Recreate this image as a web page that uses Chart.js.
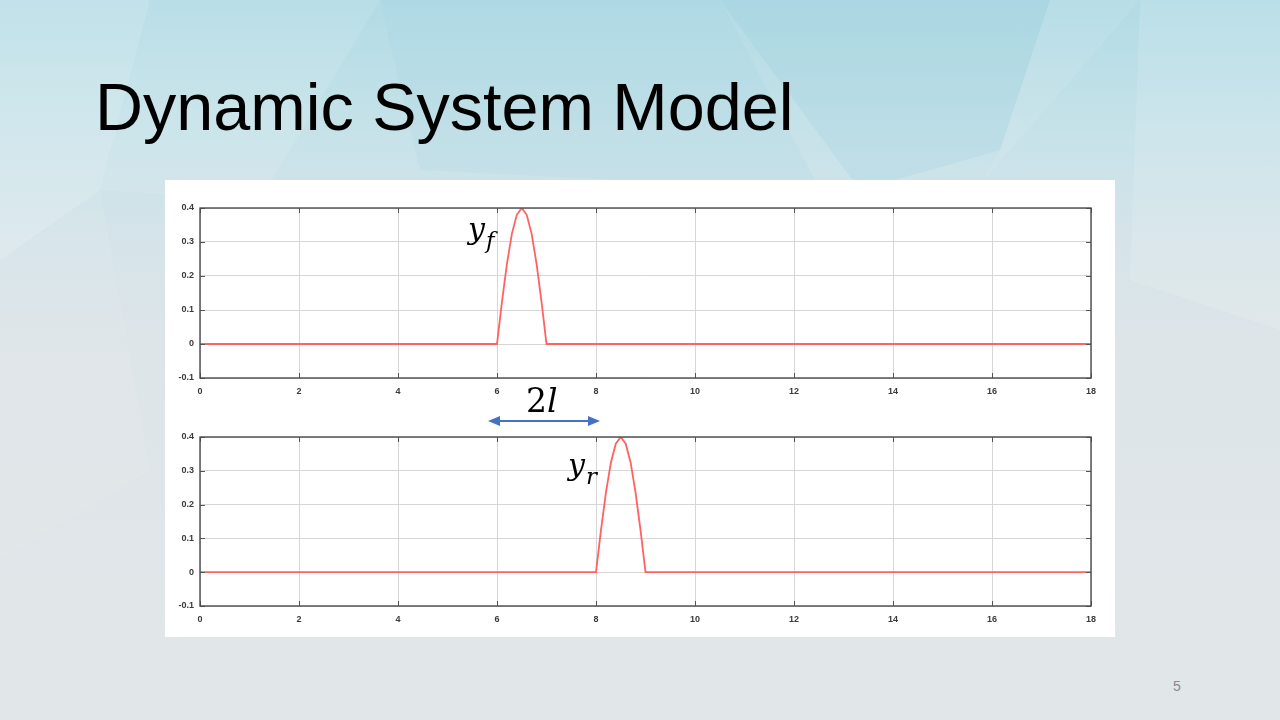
<!DOCTYPE html>
<html>
<head>
<meta charset="utf-8">
<script src="https://cdn.jsdelivr.net/npm/chart.js@4/dist/chart.umd.min.js"></script>
<style>
  html, body { margin: 0; padding: 0; }
  body { width: 1280px; height: 720px; position: relative; overflow: hidden;
         background: linear-gradient(to bottom, #b2dbe5 0%, #c6e2e9 18%, #d6e4e9 34%, #dee5e8 50%, #e1e6e9 100%);
         font-family: "Liberation Sans", Arial, sans-serif; }
  #bg { position: absolute; left: 0; top: 0; }
  h1 { position: absolute; left: 95px; top: 74px; margin: 0; font-weight: normal;
       font-size: 66.5px; line-height: 1; color: #000; }
  #panel { position: absolute; left: 165px; top: 180px; width: 950px; height: 457px; background: #fff; }
  .cv { position: absolute; left: 165px; }
  .lbl { position: absolute; font-family: "DejaVu Serif", "Liberation Serif", serif; font-style: italic;
         line-height: 1; color: #000; white-space: nowrap; }
  .sub { font-size: 23px; position: relative; top: 9px; margin-left: 1px; }
  .up { font-style: normal; }
  #page { position: absolute; left: 1173px; top: 678px; font-size: 14px; color: #8a8a8a; }
</style>
</head>
<body>
<svg id="bg" width="1280" height="720">
  <polygon points="0,0 150,0 100,190 0,260" fill="rgba(255,255,255,0.20)"/>
  <polygon points="150,0 380,0 260,200 100,190" fill="rgba(255,255,255,0.10)"/>
  <polygon points="380,0 720,0 820,190 420,170" fill="rgba(150,205,220,0.12)"/>
  <polygon points="720,0 1050,0 1000,150 860,190" fill="rgba(130,195,215,0.15)"/>
  <polygon points="1050,0 1140,0 980,185 1000,150" fill="rgba(255,255,255,0.08)"/>
  <polygon points="1140,0 1280,0 1280,330 1130,280" fill="rgba(255,255,255,0.12)"/>
  <polygon points="0,260 100,190 150,470 0,560" fill="rgba(255,255,255,0.07)"/>
</svg>
<h1>Dynamic System Model</h1>
<div id="panel"></div>
<canvas id="chartF" class="cv" style="top:180px"></canvas>
<canvas id="chartR" class="cv" style="top:408px"></canvas>
<div class="lbl" style="left:468px;top:214px;font-size:30px">y<span class="sub">f</span></div>
<div class="lbl" style="left:526px;top:384px;font-size:33px"><span class="up">2</span>l</div>
<div class="lbl" style="left:568px;top:450px;font-size:30px">y<span class="sub">r</span></div>
<svg style="position:absolute;left:480px;top:411px" width="130" height="20">
  <line x1="18" y1="10" x2="110" y2="10" stroke="#4472c4" stroke-width="2"/>
  <polygon points="8,10 20,5 20,15" fill="#4472c4"/>
  <polygon points="120,10 108,5 108,15" fill="#4472c4"/>
</svg>
<div id="page">5</div>
<script>
// front wheel road input
const tFront = [0, 6, 6.1, 6.2, 6.3, 6.4, 6.5, 6.6, 6.7, 6.8, 6.9, 7, 18];
const yFront = [0, 0, 0.124, 0.235, 0.324, 0.380, 0.4, 0.380, 0.324, 0.235, 0.124, 0, 0];
// rear wheel road input (delayed by 2l)
const tRear = [0, 8, 8.1, 8.2, 8.3, 8.4, 8.5, 8.6, 8.7, 8.8, 8.9, 9, 18];
const yRear = [0, 0, 0.124, 0.235, 0.324, 0.380, 0.4, 0.380, 0.324, 0.235, 0.124, 0, 0];

const xTicks = [0, 2, 4, 6, 8, 10, 12, 14, 16, 18];
const yTicks = [-0.1, 0, 0.1, 0.2, 0.3, 0.4];

// matlab style box with inward tick marks
const boxTicks = {
    id: 'boxTicks',
    afterDraw(chart) {
        const { ctx, chartArea: a, scales } = chart;
        ctx.save();
        ctx.strokeStyle = '#555';
        ctx.lineWidth = 1;
        ctx.beginPath();
        scales.x.ticks.forEach(t => {
            const px = Math.round(scales.x.getPixelForValue(t.value)) + 0.5;
            ctx.moveTo(px, a.top); ctx.lineTo(px, a.top + 5);
            ctx.moveTo(px, a.bottom); ctx.lineTo(px, a.bottom - 5);
        });
        scales.y.ticks.forEach(t => {
            const py = Math.round(scales.y.getPixelForValue(t.value)) + 0.5;
            ctx.moveTo(a.left, py); ctx.lineTo(a.left + 5, py);
            ctx.moveTo(a.right, py); ctx.lineTo(a.right - 5, py);
        });
        ctx.stroke();
        ctx.lineWidth = 1.4;
        ctx.strokeStyle = '#4a4a4a';
        ctx.strokeRect(a.left, a.top, a.right - a.left, a.bottom - a.top);
        ctx.restore();
    }
};

function makeChart(id, ts, ys, padTop) {
    const canvas = document.getElementById(id);
    canvas.style.width = '950px';
    canvas.style.height = '229px';
    return new Chart(canvas, {
        type: 'scatter',
        data: {
            datasets: [{
                data: ts.map((t, i) => ({ x: t, y: ys[i] })),
                showLine: true,
                borderColor: '#ff6262',
                borderWidth: 1.8,
                pointRadius: 0,
                tension: 0
            }]
        },
        options: {
            responsive: false,
            animation: false,
            layout: { padding: { top: padTop, right: 24, left: 0, bottom: 0 } },
            plugins: { legend: { display: false }, tooltip: { enabled: false } },
            scales: {
                x: {
                    type: 'linear', min: 0, max: 18,
                    afterBuildTicks: s => { s.ticks = xTicks.map(v => ({ value: v })); },
                    afterFit: s => { s.height = 31; },
                    grid: { color: '#d6d6d6', drawTicks: false },
                    border: { display: false },
                    ticks: { color: '#3a3a3a', padding: 8, maxRotation: 0,
                             font: { family: 'Liberation Sans', size: 9, weight: 'bold' } }
                },
                y: {
                    min: -0.1, max: 0.4,
                    afterBuildTicks: s => { s.ticks = yTicks.map(v => ({ value: v })); },
                    afterFit: s => { s.width = 35; },
                    grid: { color: '#d6d6d6', drawTicks: false },
                    border: { display: false },
                    ticks: { color: '#3a3a3a', padding: 6,
                             callback: v => String(Math.round(v * 10) / 10),
                             font: { family: 'Liberation Sans', size: 9, weight: 'bold' } }
                }
            }
        },
        plugins: [boxTicks]
    });
}

makeChart('chartF', tFront, yFront, 28);
makeChart('chartR', tRear, yRear, 29);
</script>
</body>
</html>
